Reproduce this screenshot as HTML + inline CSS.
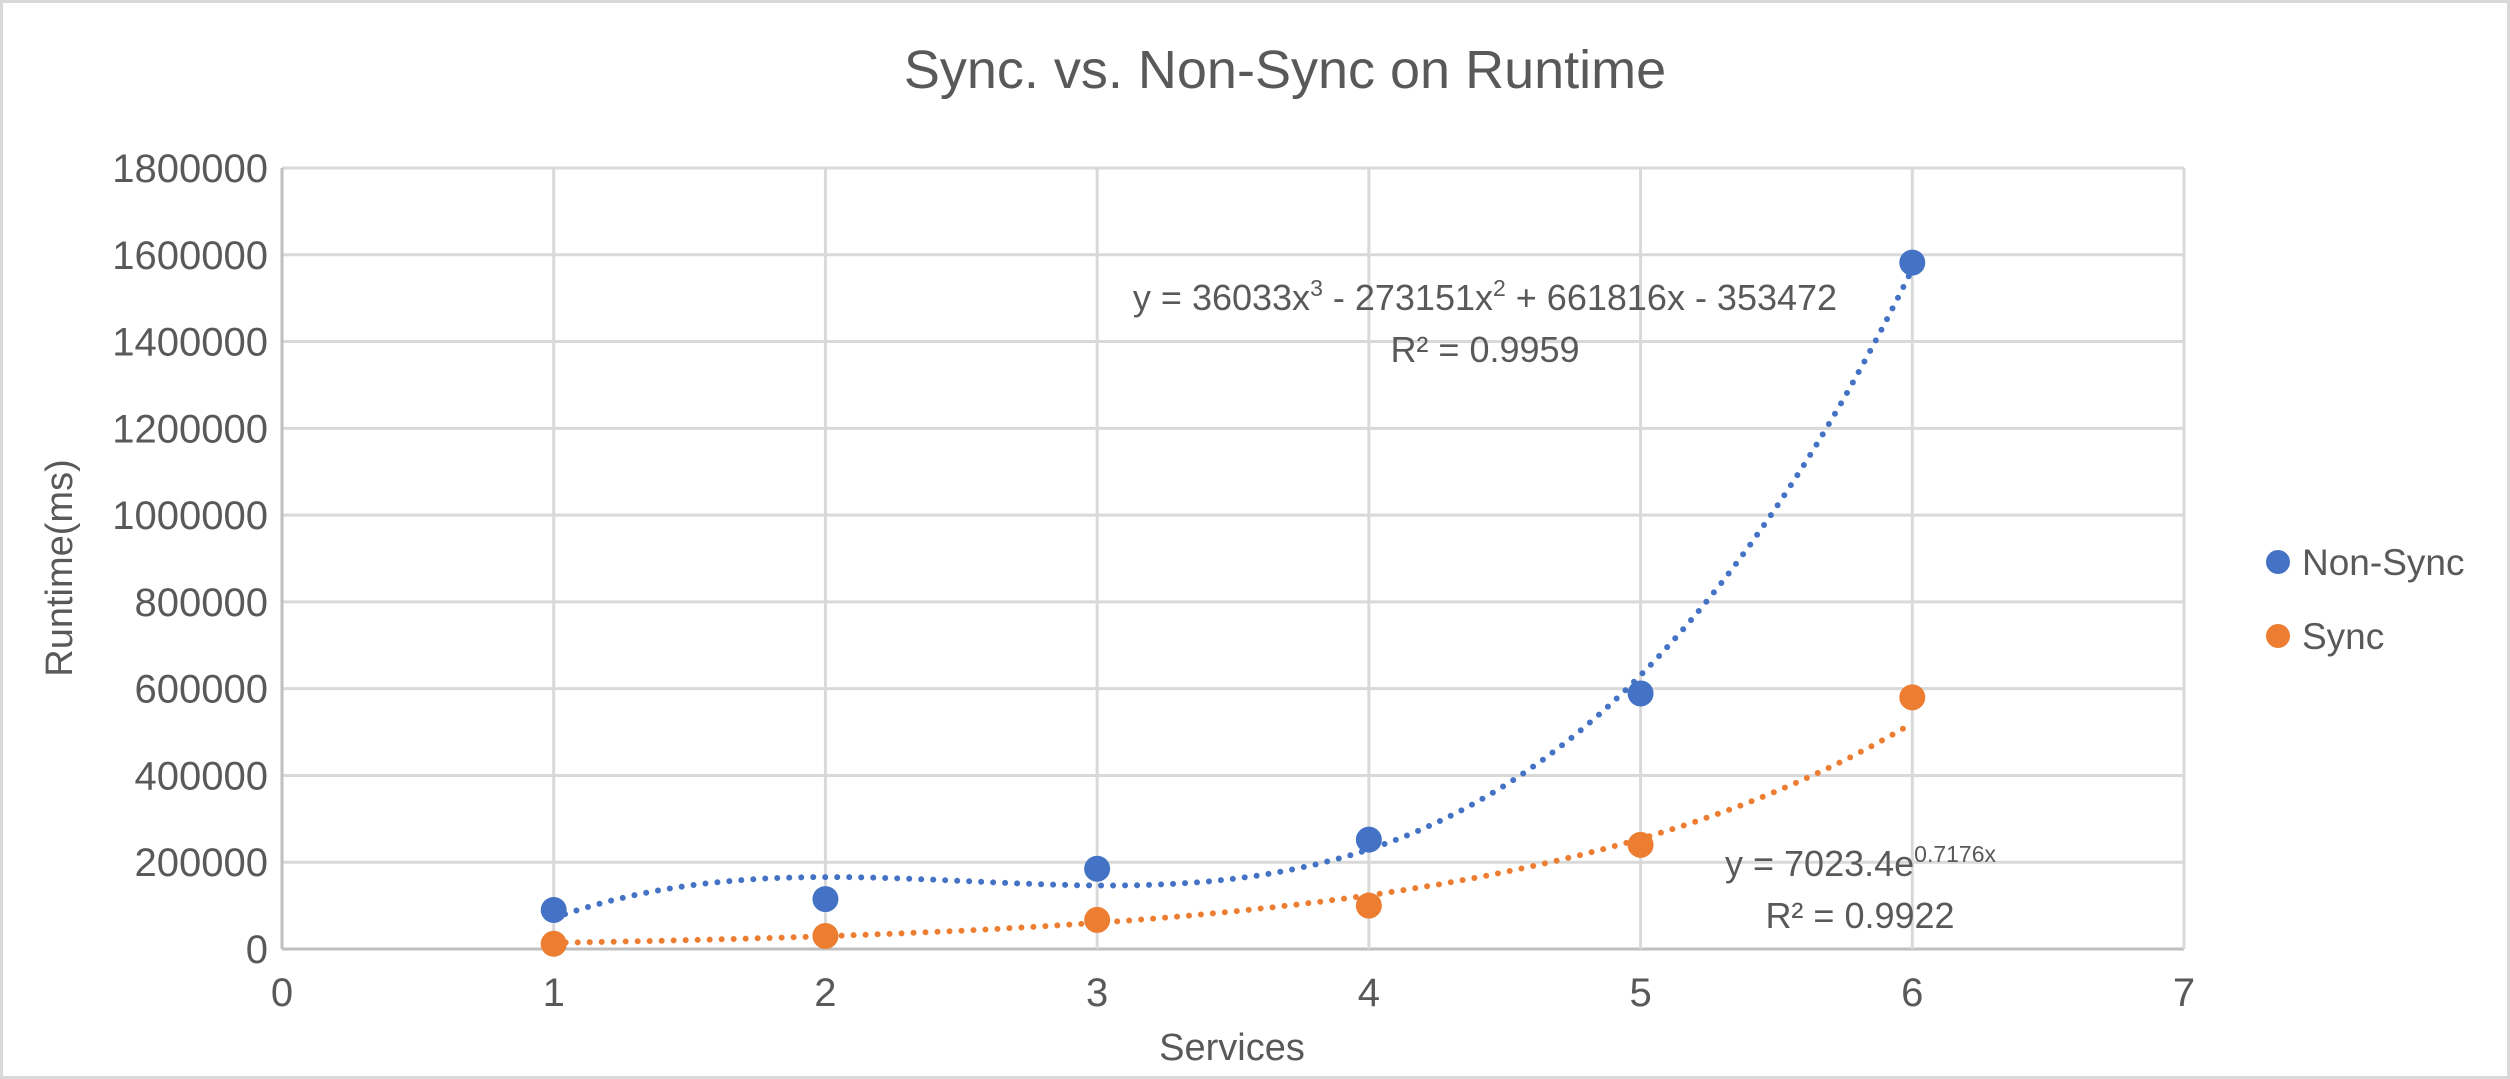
<!DOCTYPE html>
<html><head><meta charset="utf-8"><style>
html,body{margin:0;padding:0;background:#fff}
svg{display:block}
text{font-family:"Liberation Sans",sans-serif;fill:#595959}
</style></head><body>
<svg id="s" width="2510" height="1079" xmlns="http://www.w3.org/2000/svg">
<rect x="1.5" y="1.5" width="2507" height="1076" fill="#fff" stroke="#d9d9d9" stroke-width="3"/>
<text x="1285" y="88" font-size="54" text-anchor="middle">Sync. vs. Non-Sync on  Runtime</text>
<g id="grid"></g>
<g id="series"></g>
<text x="1232" y="1060" font-size="38" text-anchor="middle">Services</text>
<text transform="translate(72,568) rotate(-90)" font-size="38" text-anchor="middle">Runtime(ms)</text>
<circle cx="2278" cy="562" r="12" fill="#4472c4"/>
<text x="2302" y="575" font-size="37">Non-Sync</text>
<circle cx="2278" cy="636" r="12" fill="#ed7d31"/>
<text x="2302" y="649" font-size="37">Sync</text>
<text x="1485" y="310" font-size="36" text-anchor="middle">y = 36033x<tspan font-size="23" dy="-14">3</tspan><tspan dy="14"> - 273151x</tspan><tspan font-size="23" dy="-14">2</tspan><tspan dy="14"> + 661816x - 353472</tspan></text>
<text x="1485" y="362" font-size="36" text-anchor="middle">R² = 0.9959</text>
<text x="1725" y="876" font-size="36">y = 7023.4e<tspan font-size="23" dy="-14">0.7176x</tspan></text>
<text x="1860" y="928" font-size="36" text-anchor="middle">R² = 0.9922</text>
</svg>
<script>
const L=282,R=2184,T=168,B=949,NS="http://www.w3.org/2000/svg";
const X=v=>L+(R-L)*v/7, Y=v=>B-(B-T)*v/1800000;
const g=document.getElementById('grid'),s=document.getElementById('series');
function el(p,t,a,txt){const e=document.createElementNS(NS,t);for(const k in a)e.setAttribute(k,a[k]);if(txt!=null)e.textContent=txt;p.appendChild(e);return e;}
for(let i=0;i<=9;i++){const y=Y(i*200000);el(g,'line',{x1:L,x2:R,y1:y,y2:y,stroke:i==0?'#bfbfbf':'#d9d9d9','stroke-width':3});
el(g,'text',{x:268,y:y+14,'font-size':40,'text-anchor':'end'},String(i*200000));}
for(let i=0;i<=7;i++){const x=X(i);el(g,'line',{x1:x,x2:x,y1:T,y2:B,stroke:i==0?'#bfbfbf':'#d9d9d9','stroke-width':3});
el(g,'text',{x:x,y:1006,'font-size':40,'text-anchor':'middle'},String(i));}
function curve(f,col){let d='';for(let i=0;i<=200;i++){const x=1+5*i/200;d+=(i?'L':'M')+X(x).toFixed(1)+' '+Y(f(x)).toFixed(1);}
el(s,'path',{d:d,fill:'none',stroke:col,'stroke-width':6,'stroke-linecap':'round','stroke-dasharray':'0 12'});}
curve(x=>36033*x*x*x-273151*x*x+661816*x-353472,'#4472c4');
curve(x=>7023.4*Math.exp(0.7176*x),'#ed7d31');
const ns=[90000,115000,185000,252000,589000,1582000],sy=[12000,30000,67000,100000,240000,580000];
ns.forEach((v,i)=>el(s,'circle',{cx:X(i+1),cy:Y(v),r:13,fill:'#4472c4'}));
sy.forEach((v,i)=>el(s,'circle',{cx:X(i+1),cy:Y(v),r:13,fill:'#ed7d31'}));
</script>
</body></html>
